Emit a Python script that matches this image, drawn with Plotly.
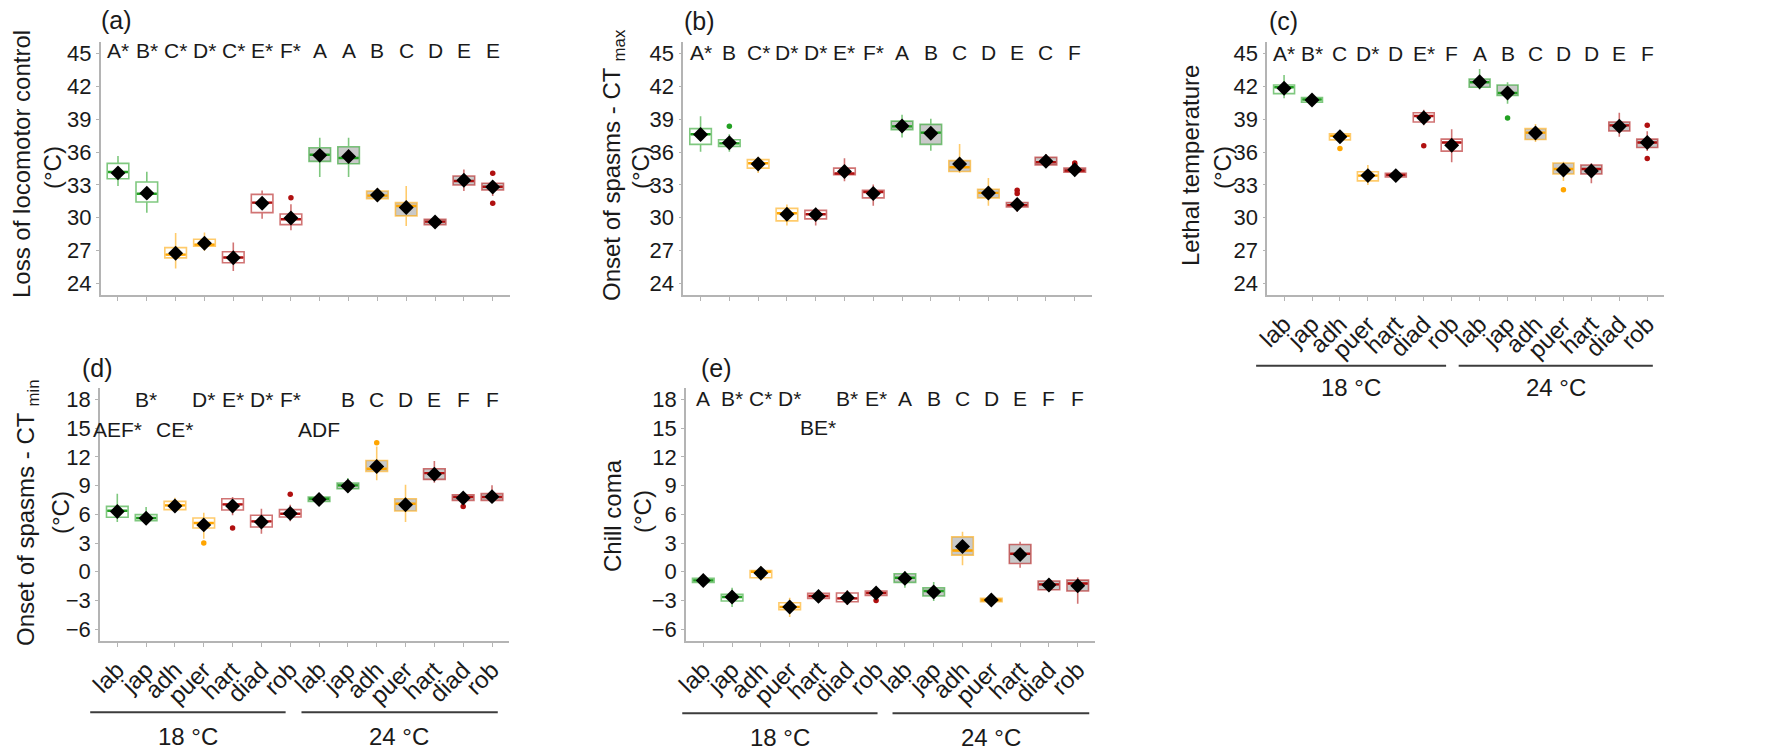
import plotly.graph_objects as go

# ---------------- data ----------------
species = ["lab", "jap", "adh", "puer", "hart", "diad", "rob"]
tick_labels = species + species
positions = list(range(1, 15))
species_color = ["#22A022", "#22A022", "#FFA500", "#FFA500", "#B01010", "#B01010", "#B01010"]
box_colors = species_color + species_color
temperature = ["18"] * 7 + ["24"] * 7
group_names = ["18 °C", "24 °C"]

# (a) Loss of locomotor control
a_q1 = [33.57, 31.44, 26.34, 27.40, 25.90, 30.47, 29.38, 35.15, 34.94, 31.75, 30.17, 29.38, 33.00, 32.54]
a_median = [34.18, 32.20, 26.64, 27.55, 26.37, 31.38, 29.86, 35.76, 35.46, 32.02, 31.08, 29.65, 33.36, 32.84]
a_q3 = [34.97, 33.27, 27.28, 28.04, 26.90, 32.14, 30.35, 36.40, 36.49, 32.45, 31.38, 29.86, 33.81, 33.15]
a_lower = [32.90, 30.47, 25.36, 26.98, 25.15, 29.92, 28.86, 33.72, 33.72, 31.47, 29.26, 29.26, 32.45, 32.00]
a_upper = [35.64, 34.20, 28.60, 28.65, 27.74, 32.50, 31.23, 37.30, 37.30, 32.72, 32.90, 30.00, 34.42, 33.36]
a_mean = [34.10, 32.25, 26.76, 27.67, 26.35, 31.32, 29.98, 35.70, 35.60, 32.08, 30.93, 29.62, 33.42, 32.81]
a_out_x = [7, 14, 14]
a_out_y = [31.84, 34.06, 31.32]
a_letters = ["A*", "B*", "C*", "D*", "C*", "E*", "F*", "A", "A", "B", "C", "D", "E", "E"]
a_letters2 = [""] * 14

# (b) Onset of spasms - CTmax
b_q1 = [36.70, 36.52, 34.53, 29.72, 29.90, 33.93, 31.82, 38.05, 36.70, 34.23, 31.82, 30.98, 34.83, 34.17]
b_median = [37.63, 36.79, 34.98, 30.41, 30.32, 34.05, 32.36, 38.35, 37.78, 34.62, 32.27, 31.16, 35.07, 34.32]
b_q3 = [38.14, 37.12, 35.31, 30.86, 30.68, 34.53, 32.52, 38.83, 38.53, 35.22, 32.61, 31.40, 35.52, 34.53]
b_lower = [36.03, 36.03, 34.08, 29.30, 29.30, 33.33, 31.10, 37.33, 36.13, 34.08, 31.10, 30.56, 34.71, 34.02]
b_upper = [39.28, 37.63, 35.58, 31.22, 30.92, 35.43, 33.03, 39.40, 39.04, 36.73, 33.63, 31.40, 35.82, 34.75]
b_mean = [37.60, 36.85, 34.92, 30.32, 30.29, 34.23, 32.21, 38.38, 37.72, 34.92, 32.27, 31.22, 35.16, 34.38]
b_out_x = [2, 12, 12, 14, 14]
b_out_y = [38.35, 32.52, 32.21, 35.00, 34.85]
b_letters = ["A*", "B", "C*", "D*", "D*", "E*", "F*", "A", "B", "C", "D", "E", "C", "F"]
b_letters2 = [""] * 14

# (c) Lethal temperature
c_q1 = [41.34, 40.56, 37.11, 33.37, 33.73, 38.75, 36.09, 41.92, 41.16, 37.15, 34.00, 34.00, 37.93, 36.42]
c_median = [41.92, 40.80, 37.48, 33.85, 33.91, 39.29, 36.87, 42.37, 41.40, 37.78, 34.46, 34.46, 38.44, 36.87]
c_q3 = [42.13, 40.98, 37.66, 34.21, 34.06, 39.59, 37.18, 42.67, 42.13, 38.14, 35.00, 34.82, 38.75, 37.18]
c_lower = [40.92, 40.41, 36.93, 33.00, 33.61, 38.44, 35.06, 41.71, 40.41, 36.93, 33.37, 33.16, 37.39, 36.09]
c_upper = [43.04, 41.10, 37.84, 34.82, 34.15, 39.86, 38.08, 43.58, 42.37, 38.56, 35.12, 34.97, 39.59, 37.90]
c_mean = [41.83, 40.75, 37.39, 33.85, 33.85, 39.14, 36.63, 42.43, 41.40, 37.75, 34.37, 34.27, 38.35, 36.87]
c_out_x = [3, 6, 9, 11, 14, 14]
c_out_y = [36.33, 36.57, 39.10, 32.55, 38.44, 35.42]
c_letters = ["A*", "B*", "C", "D*", "D", "E*", "F", "A", "B", "C", "D", "D", "E", "F"]
c_letters2 = [""] * 14

# (d) Onset of spasms - CTmin
d_q1 = [5.69, 5.34, 6.49, 4.57, 6.45, 4.68, 5.72, 7.36, 8.68, 10.49, 6.35, 9.65, 7.46, 7.46]
d_median = [6.38, 5.62, 6.94, 5.10, 7.04, 5.27, 6.07, 7.63, 9.03, 10.77, 7.11, 10.31, 7.81, 7.81]
d_q3 = [6.83, 5.97, 7.36, 5.62, 7.63, 5.90, 6.49, 7.81, 9.27, 11.63, 7.63, 10.77, 8.05, 8.16]
d_lower = [5.20, 4.92, 6.31, 3.46, 5.90, 3.98, 5.27, 7.01, 8.26, 9.55, 5.20, 9.30, 7.36, 7.29]
d_upper = [8.16, 6.77, 7.74, 6.17, 7.81, 6.59, 7.01, 8.16, 9.79, 13.10, 9.10, 11.57, 8.33, 9.03]
d_mean = [6.30, 5.60, 6.87, 4.90, 6.87, 5.20, 6.10, 7.55, 8.95, 11.00, 7.00, 10.20, 7.70, 7.85]
d_out_x = [4, 5, 7, 10, 13]
d_out_y = [3.01, 4.57, 8.09, 13.48, 6.83]
d_letters = ["", "B*", "", "D*", "E*", "D*", "F*", "", "B", "C", "D", "E", "F", "F"]
d_letters2 = ["AEF*", "", "CE*", "", "", "", "", "ADF", "", "", "", "", "", ""]

# (e) Chill coma
e_q1 = [-1.11, -3.06, -0.63, -3.96, -2.78, -3.13, -2.47, -1.11, -2.53, 1.74, -3.13, 0.87, -1.88, -2.01]
e_median = [-0.90, -2.64, 0.00, -3.68, -2.53, -2.78, -2.22, -0.63, -2.01, 2.22, -2.95, 1.88, -1.32, -1.22]
e_q3 = [-0.69, -2.36, 0.14, -3.23, -2.26, -2.22, -2.01, -0.21, -1.67, 3.65, -2.78, 2.85, -0.97, -0.87]
e_lower = [-1.32, -3.68, -0.90, -4.72, -2.99, -3.47, -2.71, -1.67, -3.06, 0.69, -3.13, 0.42, -2.08, -3.33]
e_upper = [-0.45, -1.67, 0.59, -2.71, -2.08, -1.94, -1.84, 0.07, -1.08, 4.17, -2.36, 3.13, -0.69, -0.56]
e_mean = [-0.90, -2.64, -0.14, -3.68, -2.57, -2.71, -2.22, -0.69, -2.12, 2.64, -2.95, 1.81, -1.39, -1.46]
e_out_x = [7]
e_out_y = [-2.99]
e_letters = ["A", "B*", "C*", "D*", "", "B*", "E*", "A", "B", "C", "D", "E", "F", "F"]
e_letters2 = ["", "", "", "", "BE*", "", "", "", "", "", "", "", "", ""]

y_ticks_hot = [24, 27, 30, 33, 36, 39, 42, 45]
y_ticks_cold = [-6, -3, 0, 3, 6, 9, 12, 15, 18]

# ---------------- layout constants ----------------
W, H = 1780, 754
FONT = "Liberation Sans, Arial, sans-serif"
TXT = "#1a1a1a"
AXC = "#b4b4b4"
BOXW = 0.75
XR = [0.4, 14.6]


def hexa(c, a):
    c = c.lstrip("#")
    return "rgba(%d,%d,%d,%.2f)" % (int(c[0:2], 16), int(c[2:4], 16), int(c[4:6], 16), a)


panels = [
    dict(label="(a)", lab_px=(116, 20), px=(100.7, 510), py=(42, 295), yr=[22.95, 46.05],
         yt=y_ticks_hot, q1=a_q1, med=a_median, q3=a_q3, lo=a_lower, hi=a_upper, mean=a_mean,
         ox=a_out_x, oy=a_out_y, let1=a_letters, let2=a_letters2, ly1=45.25, ly2=None,
         title1="Loss of locomotor control", t1_px=(22, 164), t2_px=(52, 168),
         xlabels=False, brackets=None),
    dict(label="(b)", lab_px=(699, 21), px=(683.3, 1092), py=(42, 295), yr=[22.95, 46.05],
         yt=y_ticks_hot, q1=b_q1, med=b_median, q3=b_q3, lo=b_lower, hi=b_upper, mean=b_mean,
         ox=b_out_x, oy=b_out_y, let1=b_letters, let2=b_letters2, ly1=45.1, ly2=None,
         title1="Onset of spasms - CT <sub>max</sub>", t1_px=(613, 165), t2_px=(640, 168),
         xlabels=False, brackets=None),
    dict(label="(c)", lab_px=(1283, 21), px=(1267.3, 1664), py=(42, 295), yr=[22.95, 46.05],
         yt=y_ticks_hot, q1=c_q1, med=c_median, q3=c_q3, lo=c_lower, hi=c_upper, mean=c_mean,
         ox=c_out_x, oy=c_out_y, let1=c_letters, let2=c_letters2, ly1=45.0, ly2=None,
         title1="Lethal temperature", t1_px=(1190, 166), t2_px=(1222, 168), xlabels=True,
         brackets=dict(spans=[(0.0, 6.8), (7.25, 14.2)], centers=[3.39, 10.75], line_py=365.7, text_py=387)),
    dict(label="(d)", lab_px=(97, 368), px=(100, 509.3), py=(388, 640.7), yr=[-7.2, 19.2],
         yt=y_ticks_cold, q1=d_q1, med=d_median, q3=d_q3, lo=d_lower, hi=d_upper, mean=d_mean,
         ox=d_out_x, oy=d_out_y, let1=d_letters, let2=d_letters2, ly1=17.95, ly2=14.85,
         title1="Onset of spasms - CT <sub>min</sub>", t1_px=(27, 513), t2_px=(60, 513), xlabels=True,
         brackets=dict(spans=[(0.06, 6.84), (7.39, 14.2)], centers=[3.46, 10.79], line_py=712.3, text_py=736)),
    dict(label="(e)", lab_px=(716, 368), px=(686, 1095), py=(388, 640.7), yr=[-7.2, 19.2],
         yt=y_ticks_cold, q1=e_q1, med=e_median, q3=e_q3, lo=e_lower, hi=e_upper, mean=e_mean,
         ox=e_out_x, oy=e_out_y, let1=e_letters, let2=e_letters2, ly1=18.1, ly2=15.1,
         title1="Chill coma", t1_px=(612, 516), t2_px=(642, 512), xlabels=True,
         brackets=dict(spans=[(0.27, 7.05), (7.57, 14.4)], centers=[3.65, 10.98], line_py=713.3, text_py=737)),
]

fig = go.Figure()
annotations = []
shapes = []
layout_axes = {}

for i, p in enumerate(panels):
    n = i + 1
    xa = "x" if n == 1 else "x%d" % n
    ya = "y" if n == 1 else "y%d" % n
    xkey = "xaxis" if n == 1 else "xaxis%d" % n
    ykey = "yaxis" if n == 1 else "yaxis%d" % n

    # boxes (light outline, white fill at 18 °C, grey fill at 24 °C)
    for j, pos in enumerate(positions):
        col = box_colors[j]
        fill = "white" if temperature[j] == "18" else "#C9C9C9"
        fig.add_trace(go.Box(
            x=[pos], q1=[p["q1"][j]], median=[p["med"][j]], q3=[p["q3"][j]],
            lowerfence=[p["lo"][j]], upperfence=[p["hi"][j]],
            width=BOXW, whiskerwidth=0, fillcolor=fill,
            line=dict(color=hexa(col, 0.58), width=1.6),
            boxpoints=False, hoverinfo="skip", showlegend=False,
            xaxis=xa, yaxis=ya,
        ))
        # solid median line
        fig.add_trace(go.Scatter(
            x=[pos - BOXW / 2 + 0.03, pos + BOXW / 2 - 0.03], y=[p["med"][j], p["med"][j]],
            mode="lines", line=dict(color=col, width=2.4),
            hoverinfo="skip", showlegend=False, xaxis=xa, yaxis=ya,
        ))

    # outliers
    fig.add_trace(go.Scatter(
        x=p["ox"], y=p["oy"], mode="markers",
        marker=dict(size=5.5, color=[box_colors[k - 1] for k in p["ox"]]),
        hoverinfo="skip", showlegend=False, xaxis=xa, yaxis=ya,
    ))
    # means
    fig.add_trace(go.Scatter(
        x=positions, y=p["mean"], mode="markers",
        marker=dict(symbol="diamond", size=11.5, color="black"),
        hoverinfo="skip", showlegend=False, xaxis=xa, yaxis=ya,
    ))

    # significance letters
    for j, pos in enumerate(positions):
        if p["let1"][j]:
            annotations.append(dict(x=pos, y=p["ly1"], xref=xa, yref=ya, text=p["let1"][j],
                                    showarrow=False, font=dict(family=FONT, size=21, color=TXT)))
        if p["let2"][j]:
            annotations.append(dict(x=pos, y=p["ly2"], xref=xa, yref=ya, text=p["let2"][j],
                                    showarrow=False, font=dict(family=FONT, size=21, color=TXT)))

    x0, x1 = p["px"]
    y0, y1 = p["py"]
    layout_axes[xkey] = dict(
        domain=[x0 / W, x1 / W], anchor=ya, range=XR, automargin=False,
        tickmode="array", tickvals=positions, ticktext=tick_labels,
        showticklabels=p["xlabels"], tickangle=-45,
        tickfont=dict(family=FONT, size=24, color=TXT),
        ticks="outside", ticklen=4, tickcolor=AXC, tickwidth=1,
        showline=True, linecolor=AXC, linewidth=1.6,
        showgrid=False, zeroline=False, fixedrange=True,
    )
    layout_axes[ykey] = dict(
        domain=[1 - y1 / H, 1 - y0 / H], anchor=xa, range=p["yr"], automargin=False,
        tickmode="array", tickvals=p["yt"],
        tickfont=dict(family=FONT, size=22, color=TXT),
        ticks="outside", ticklen=3, tickcolor=AXC, tickwidth=1,
        showline=True, linecolor=AXC, linewidth=1.6,
        showgrid=False, zeroline=False, fixedrange=True,
    )

    # panel label
    annotations.append(dict(x=p["lab_px"][0] / W, y=1 - p["lab_px"][1] / H, xref="paper", yref="paper",
                            text=p["label"], showarrow=False, xanchor="center", yanchor="middle",
                            font=dict(family=FONT, size=25, color=TXT)))
    # y title, two lines
    annotations.append(dict(x=p["t1_px"][0] / W, y=1 - p["t1_px"][1] / H, xref="paper", yref="paper",
                            text=p["title1"], showarrow=False, textangle=-90, xanchor="center", yanchor="middle",
                            font=dict(family=FONT, size=24, color=TXT)))
    annotations.append(dict(x=p["t2_px"][0] / W, y=1 - p["t2_px"][1] / H, xref="paper", yref="paper",
                            text="(°C)", showarrow=False, textangle=-90, xanchor="center", yanchor="middle",
                            font=dict(family=FONT, size=24, color=TXT)))

    # temperature group brackets
    if p["brackets"]:
        br = p["brackets"]
        unit = (x1 - x0) / (XR[1] - XR[0])

        def cx(c):
            return (x0 + (c - XR[0]) * unit) / W

        for (s0, s1), cen, name in zip(br["spans"], br["centers"], group_names):
            shapes.append(dict(type="line", xref="paper", yref="paper",
                               x0=cx(s0), x1=cx(s1), y0=1 - br["line_py"] / H, y1=1 - br["line_py"] / H,
                               line=dict(color="#3c3c3c", width=2)))
            annotations.append(dict(x=cx(cen), y=1 - br["text_py"] / H, xref="paper", yref="paper",
                                    text=name, showarrow=False, xanchor="center", yanchor="middle",
                                    font=dict(family=FONT, size=24, color=TXT)))

fig.update_layout(
    width=W, height=H, margin=dict(l=0, r=0, t=0, b=0, pad=0, autoexpand=False),
    paper_bgcolor="white", plot_bgcolor="white",
    showlegend=False, boxmode="overlay",
    annotations=annotations, shapes=shapes,
    **layout_axes,
)

fig.write_html("out.html")
